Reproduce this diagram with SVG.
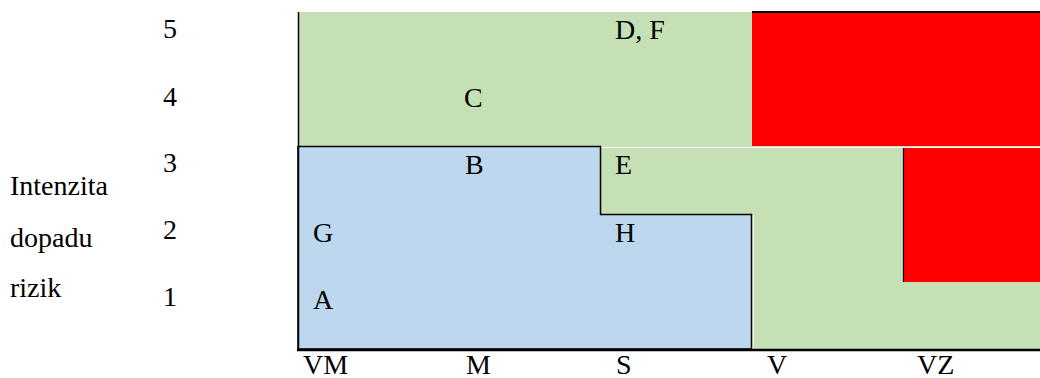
<svg xmlns="http://www.w3.org/2000/svg" width="1040" height="378" viewBox="0 0 1040 378">
<style>
text{font-family:"Liberation Serif","Times New Roman",serif;font-size:28px;fill:#000}
.g{fill:#C5E0B4}
.r{fill:#FF0000}
.b{fill:#BDD7EE;stroke:#000;stroke-width:1.5}
.k{stroke:#000;fill:none}
.w{stroke:#fff;fill:none;stroke-width:1.2}
</style>
<rect width="1040" height="378" fill="#fff"/>
<g id="zones">
<rect id="green" class="g" x="298" y="12" width="742" height="338"/>
<rect id="red-top" class="r" x="752" y="12" width="288" height="134"/>
<rect id="red-right" class="r" x="903" y="147" width="137" height="135"/>
<polyline class="w" points="600.5,147.5 1040,147.5"/>
<line class="w" x1="753" y1="215" x2="753" y2="349"/>
<line class="k" x1="752" y1="12" x2="1040" y2="12" stroke-width="2"/>
<line class="k" x1="903.5" y1="148" x2="903.5" y2="282" stroke-width="1.2"/>
<polygon id="blue" class="b" points="298,146.5 600.5,146.5 600.5,214.5 751.5,214.5 751.5,349 298,349"/>
</g>
<g id="axes">
<line class="k" x1="298.5" y1="12" x2="298.5" y2="350" stroke-width="1.5"/>
<line class="k" x1="297" y1="350" x2="1040" y2="350" stroke-width="2.5"/>
</g>
<g id="y-labels">
<text x="163" y="38">5</text>
<text x="163" y="106">4</text>
<text x="163" y="172">3</text>
<text x="163" y="239">2</text>
<text x="163" y="306">1</text>
</g>
<g id="y-title">
<text x="10" y="195">Intenzita</text>
<text x="10" y="247">dopadu</text>
<text x="10" y="297">rizik</text>
</g>
<g id="points">
<text x="615" y="39">D, F</text>
<text x="464" y="107">C</text>
<text x="465" y="174">B</text>
<text x="615" y="174">E</text>
<text x="313" y="242">G</text>
<text x="615" y="242">H</text>
<text x="313" y="309">A</text>
</g>
<g id="x-labels">
<text x="303" y="374">VM</text>
<text x="466" y="374">M</text>
<text x="616" y="374">S</text>
<text x="767" y="374">V</text>
<text x="917" y="374">VZ</text>
</g>
</svg>
